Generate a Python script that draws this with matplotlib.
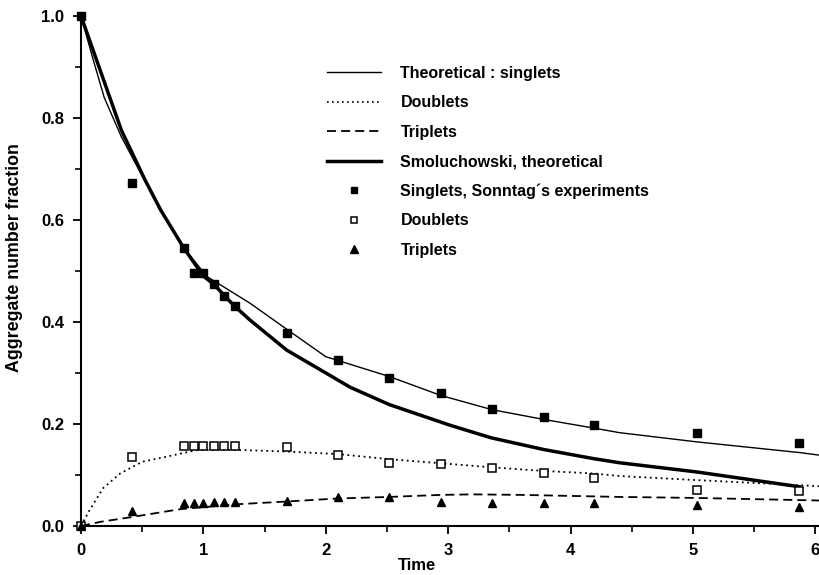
import matplotlib
matplotlib.use("Agg")
import matplotlib.pyplot as plt
from matplotlib.lines import Line2D

plt.rcParams['font.family'] = ['Liberation Sans', 'DejaVu Sans']

# Experimental times
t_exp = [0, 0.42, 0.84, 0.92, 1.0, 1.09, 1.17, 1.26, 1.68, 2.10, 2.52, 2.94, 3.36, 3.78, 4.19, 5.03, 5.87]
singlets_exp = [1.0, 0.673, 0.545, 0.497, 0.497, 0.475, 0.451, 0.431, 0.379, 0.325, 0.291, 0.261,
                0.229, 0.214, 0.198, 0.182, 0.162]
doublets_exp = [0.0, 0.135, 0.157, 0.157, 0.157, 0.157, 0.157, 0.157, 0.155, 0.139, 0.123, 0.122,
                0.113, 0.103, 0.094, 0.071, 0.069]
triplets_exp = [0.0, 0.030, 0.045, 0.045, 0.046, 0.048, 0.048, 0.048, 0.049, 0.056, 0.056, 0.048,
                0.046, 0.046, 0.045, 0.041, 0.038]

# Theoretical singlets (thin solid)
t_th_s = [0, 0.10, 0.19, 0.33, 0.51, 0.65, 0.84, 1.03, 1.38, 1.68, 2.0, 2.52, 2.94, 3.36, 3.78,
          4.19, 4.40, 5.03, 5.87, 6.03]
th_s = [1.0, 0.914, 0.840, 0.763, 0.682, 0.62, 0.545, 0.489, 0.437, 0.386, 0.332, 0.293, 0.256,
        0.228, 0.209, 0.192, 0.183, 0.165, 0.144, 0.139]

# Theoretical doublets (dotted)
t_th_d = [0, 0.07, 0.18, 0.32, 0.50, 0.70, 0.95, 1.3, 1.68, 2.1, 2.52, 2.94, 3.36, 3.78, 4.19,
          4.40, 5.03, 5.87, 6.03]
th_d = [0.0, 0.031, 0.074, 0.103, 0.126, 0.136, 0.149, 0.149, 0.146, 0.141, 0.131, 0.123, 0.115,
        0.108, 0.103, 0.098, 0.090, 0.080, 0.078]

# Theoretical triplets (dashed)
t_th_t = [0, 0.155, 0.40, 0.81, 1.3, 1.68, 2.1, 2.52, 2.94, 3.2, 3.6, 4.40, 5.03, 6.03]
th_t = [0.0, 0.008, 0.017, 0.033, 0.043, 0.048, 0.054, 0.057, 0.061, 0.062, 0.061, 0.057, 0.055, 0.050]

# Smoluchowski, theoretical (thick solid)
t_sm = [0, 0.33, 0.52, 0.65, 0.84, 1.0, 1.09, 1.17, 1.26, 1.38, 1.68, 2.2, 2.52, 3.01, 3.35,
        3.78, 4.19, 4.40, 5.03, 5.87]
sm = [1.0, 0.776, 0.68, 0.62, 0.545, 0.49, 0.473, 0.452, 0.43, 0.404, 0.345, 0.272, 0.238, 0.198,
      0.173, 0.150, 0.132, 0.124, 0.106, 0.077]

labels = ["Theoretical : singlets", "Doublets", "Triplets", "Smoluchowski, theoretical",
          "Singlets, Sonntag\u00b4s experiments", "Doublets", "Triplets"]
xticks = [0, 1, 2, 3, 4, 5, 6]
yticks = [0.0, 0.2, 0.4, 0.6, 0.8, 1.0]

fig = plt.figure(figsize=(8.19, 5.75), dpi=100)
ax = fig.add_axes([81/819, 49/575, 738/819, 510/575])

ax.plot(t_th_s, th_s, color='black', lw=1.0)
ax.plot(t_th_d, th_d, color='black', lw=1.3, linestyle=(0, (1, 2.0)))
ax.plot(t_th_t, th_t, color='black', lw=1.3, linestyle=(0, (5, 2.8)))
ax.plot(t_sm, sm, color='black', lw=2.5)
ax.plot(t_exp, singlets_exp, 's', color='black', ms=5.5, clip_on=False)
ax.plot(t_exp, doublets_exp, 's', mfc='white', mec='black', mew=1.1, ms=5.5, clip_on=False)
ax.plot(t_exp, triplets_exp, '^', color='black', ms=6, clip_on=False)

ax.set_xlim(0, 6.03)
ax.set_ylim(0, 1.0)
ax.spines['top'].set_visible(False)
ax.spines['right'].set_visible(False)
for s in ('left', 'bottom'):
    ax.spines[s].set_linewidth(1.5)

ax.set_xticks(xticks)
ax.set_xticklabels([str(v) for v in xticks])
ax.set_yticks(yticks)
ax.set_yticklabels(["%.1f" % v for v in yticks])
ax.set_xticks([0.5, 1.5, 2.5, 3.5, 4.5, 5.5], minor=True)
ax.set_yticks([0.1, 0.3, 0.5, 0.7, 0.9], minor=True)
ax.tick_params(which='major', direction='out', length=6, width=1.3, labelsize=12, pad=6)
ax.tick_params(which='minor', direction='out', length=4, width=1.2)
for lab in ax.get_xticklabels() + ax.get_yticklabels():
    lab.set_fontweight('bold')

ax.set_xlabel("Time", fontsize=12, fontweight='bold')
ax.set_ylabel("Aggregate number fraction", fontsize=12.8, fontweight='bold')
ax.xaxis.set_label_coords(0.455, -0.062)
ax.yaxis.set_label_coords(-0.078, 0.527)

handles = [
    Line2D([], [], color='black', lw=1.0),
    Line2D([], [], color='black', lw=1.2, linestyle=(0, (1, 2.0))),
    Line2D([], [], color='black', lw=1.3, linestyle=(0, (5, 2.8))),
    Line2D([], [], color='black', lw=2.5),
    Line2D([], [], marker='s', color='black', ls='none', ms=5),
    Line2D([], [], marker='s', mfc='white', mec='black', mew=1.1, ls='none', ms=5),
    Line2D([], [], marker='^', color='black', ls='none', ms=5.5),
]
leg = ax.legend(handles, labels, loc='upper left', bbox_to_anchor=(327/819, 1 - 66/575),
                bbox_transform=fig.transFigure, frameon=False, borderpad=0, borderaxespad=0,
                handlelength=3.4, handletextpad=1.2, labelspacing=0.9,
                prop={'size': 11.5, 'weight': 'bold'})

fig.savefig("out.png", dpi=100, facecolor='white')
